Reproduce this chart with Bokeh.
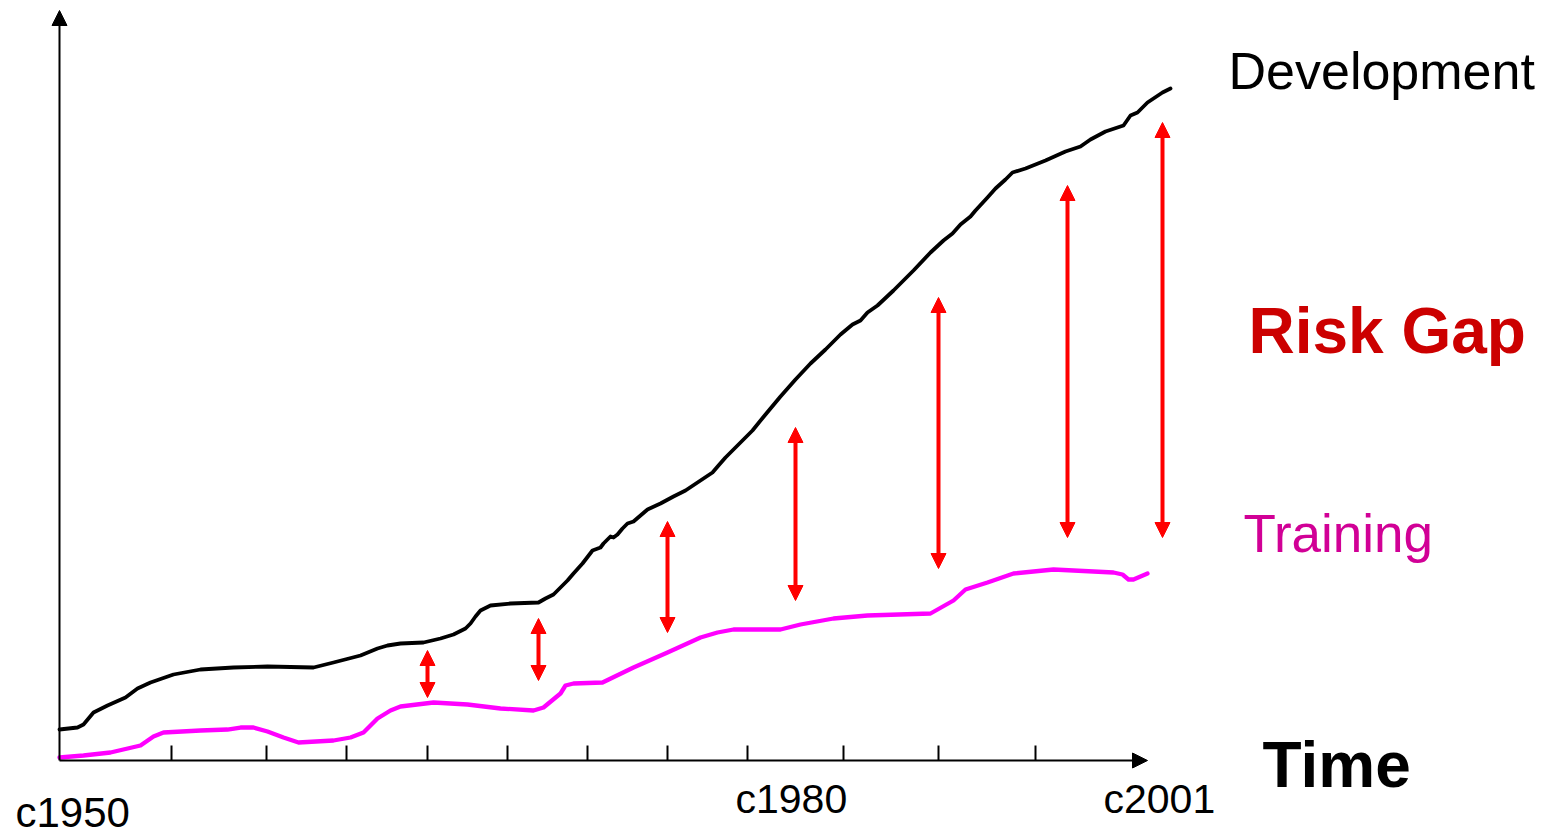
from bokeh.plotting import figure
from bokeh.models import Range1d, Arrow, NormalHead, ColumnDataSource
from bokeh.core.properties import value
from bokeh.embed import file_html
from bokeh.resources import INLINE

# ---- data (time index t, level above the time axis) ----
dev_t = [0, 18, 24, 29, 34, 48, 66, 78, 91, 114, 141, 174, 208, 254, 274, 301, 318, 328, 341,
         364, 381, 394, 406, 411, 416, 421, 431, 451, 479, 486, 494, 508, 514, 523, 533, 541,
         544, 548, 551, 554, 558, 563, 568, 574, 581, 588, 601, 614, 626, 638, 644, 653, 659,
         666, 676, 686, 693, 706, 721, 736, 751, 766, 781, 793, 801, 808, 818, 834, 854, 871,
         884, 893, 901, 911, 916, 928, 936, 946, 953, 966, 986, 1006, 1021, 1031, 1046, 1064,
         1071, 1078, 1088, 1094, 1103, 1111]
dev_v = [31, 33, 36, 42, 48, 55, 63, 72, 78, 86, 91, 93, 94, 93, 98, 105, 112, 115, 117,
         118, 122, 126, 132, 137, 144, 150, 155, 157, 158, 162, 166, 180, 187, 197, 210, 213,
         217, 221, 224, 223, 226, 232, 237, 239, 245, 251, 257, 264, 270, 278, 282, 288, 295,
         303, 313, 323, 330, 346, 364, 381, 397, 411, 426, 436, 440, 448, 455, 470, 490, 508,
         520, 527, 536, 544, 550, 563, 572, 581, 588, 592, 600, 609, 614, 621, 629, 635,
         645, 648, 658, 662, 668, 672]

trn_t = [0, 24, 51, 81, 94, 104, 141, 168, 181, 194, 208, 224, 239, 274, 291, 304, 318, 331,
         341, 374, 408, 441, 474, 484, 501, 506, 514, 543, 574, 608, 641, 658, 674, 721, 741,
         774, 808, 871, 894, 906, 928, 954, 994, 1054, 1063, 1069, 1074, 1088]
trn_v = [3, 5, 8, 15, 24, 28, 30, 31, 33, 33, 29, 23, 18, 20, 23, 28, 42, 50,
         54, 58, 56, 52, 50, 53, 67, 75, 77, 78, 93, 108, 123, 128, 131, 131, 136,
         142, 145, 147, 160, 171, 178, 187, 191, 188, 186, 181, 181, 187]

gap_t = [368, 479, 608, 736, 879, 1008, 1103]
gap_top = [110, 142, 239, 333, 463, 575, 638]
gap_bottom = [63, 80, 128, 160, 192, 223, 223]

tick_t = [112, 207, 287, 368, 448, 528, 608, 688, 784, 879, 976]
tick_len = 15
axis_x_end = 1088
axis_y_end = 750

year_labels = ["c1950", "c1980", "c2001"]
year_t = [-44, 676, 1044]
year_v = [-52, -38, -38]
year_size = ["42px", "41px", "41px"]

FONT = "Liberation Sans"

p = figure(width=1555, height=839, output_backend="svg", toolbar_location=None,
           x_range=Range1d(-59, 1496), y_range=Range1d(-79, 760), min_border=0)
p.axis.visible = False
p.grid.visible = False
p.outline_line_color = None
p.background_fill_color = "white"
p.border_fill_color = "white"

# axes with arrowheads
p.add_layout(Arrow(x_start=0, y_start=0, x_end=0, y_end=axis_y_end, line_width=2, line_color="black",
                   end=NormalHead(size=15, fill_color="black", line_color="black"), start=None))
p.add_layout(Arrow(x_start=0, y_start=0, x_end=axis_x_end, y_end=0, line_width=2, line_color="black",
                   end=NormalHead(size=15, fill_color="black", line_color="black"), start=None))

# ticks
p.segment(x0=tick_t, y0=[0] * len(tick_t), x1=tick_t, y1=[tick_len] * len(tick_t),
          line_color="black", line_width=2)

# series
p.line(dev_t, dev_v, line_color="black", line_width=3.8, line_join="round", line_cap="round")
p.line(trn_t, trn_v, line_color="#FF00FF", line_width=4.3, line_join="round", line_cap="round")

# risk gap arrows
src = ColumnDataSource(dict(x=gap_t, y0=gap_bottom, y1=gap_top))
p.add_layout(Arrow(x_start="x", y_start="y0", x_end="x", y_end="y1", source=src,
                   line_color="#FF0000", line_width=4,
                   start=NormalHead(size=15, fill_color="#FF0000", line_color="#FF0000"),
                   end=NormalHead(size=15, fill_color="#FF0000", line_color="#FF0000")))

# labels
for lab, t, v, s in zip(year_labels, year_t, year_v, year_size):
    p.text(x=[t], y=[v], text=[lab], text_font=value(FONT), text_font_size=s,
           text_color="black", text_baseline="alphabetic", text_align="left")

p.text(x=[1169], y=[690], text=["Development"], text_font=value(FONT), text_font_size="52px",
       text_color="black", text_baseline="alphabetic", text_align="left")
p.text(x=[1189], y=[430], text=["Risk Gap"], text_font=value(FONT), text_font_size="64px",
       text_font_style="bold", text_color="#CC0000", text_baseline="alphabetic", text_align="left")
p.text(x=[1184], y=[227], text=["Training"], text_font=value(FONT), text_font_size="53px",
       text_color="#D10096", text_baseline="alphabetic", text_align="left")
p.text(x=[1203], y=[-4], text=["Time"], text_font=value(FONT), text_font_size="64px",
       text_font_style="bold", text_color="black", text_baseline="alphabetic", text_align="left")

open("out.html", "w").write(file_html(p, INLINE))
